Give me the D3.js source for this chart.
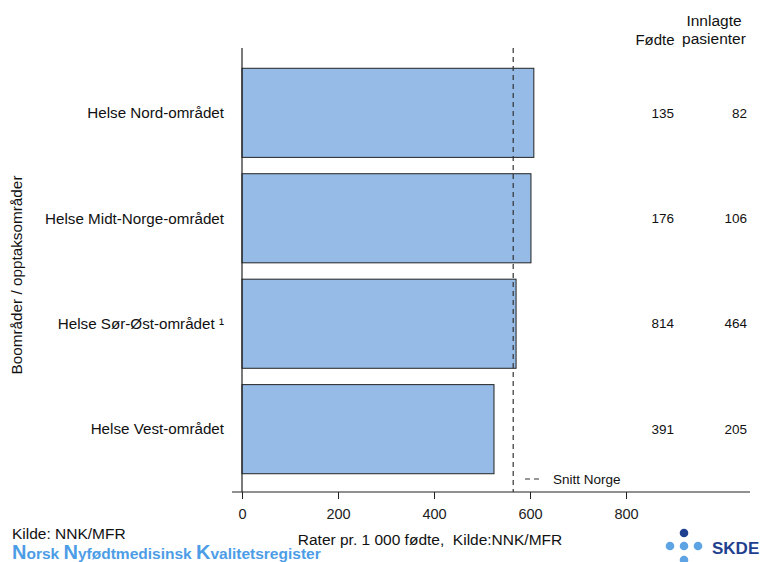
<!DOCTYPE html>
<html><head><meta charset="utf-8">
<script src="https://cdn.jsdelivr.net/npm/d3@7"></script>
<style>body{margin:0;background:#fff}svg{font-family:Arial,"Liberation Sans",sans-serif}</style>
</head><body><svg id="c" width="760" height="562"></svg>
<script>
const categories = ["Helse Nord-området","Helse Midt-Norge-området","Helse Sør-Øst-området ¹","Helse Vest-området"];
const rates = [608, 602, 571, 525];
const fodte = [135, 176, 814, 391];
const innlagte = [82, 106, 464, 205];
const snittNorge = 565;
const xTicks = [0,200,400,600,800];

const svg = d3.select("#c");
const x = d3.scaleLinear().domain([0,800]).range([242,626]);
const y = d3.scaleBand().domain(categories).range([63,479]).paddingInner(0.155).paddingOuter(0.05);

svg.append("g").selectAll("rect").data(categories).join("rect")
  .attr("x", x(0)).attr("y", d=>y(d))
  .attr("width", (d,i)=>x(rates[i])-x(0)).attr("height", y.bandwidth())
  .attr("fill","#95bbe6").attr("stroke","#222").attr("stroke-width",1);

// y axis
svg.append("line").attr("x1",242).attr("x2",242).attr("y1",48).attr("y2",492).attr("stroke","#222").attr("stroke-width",1.2);
// x axis
const xa = svg.append("g").attr("transform","translate(0,492)")
  .call(d3.axisBottom(x).tickValues(xTicks).tickSize(7).tickSizeOuter(0).tickFormat(d3.format("d")));
xa.select(".domain").remove();
xa.selectAll(".tick line").attr("stroke","#222");
xa.selectAll("text").attr("font-size",14.5).attr("fill","#222").attr("dy","1.2em");
svg.append("line").attr("x1",232).attr("x2",750).attr("y1",492).attr("y2",492).attr("stroke","#222").attr("stroke-width",1.2);

// snitt line
svg.append("line").attr("x1",x(snittNorge)).attr("x2",x(snittNorge)).attr("y1",48).attr("y2",492)
  .attr("stroke","#333").attr("stroke-width",1.2).attr("stroke-dasharray","5,4");

// category labels
svg.append("g").selectAll("text").data(categories).join("text")
  .attr("x",224).attr("y",d=>y(d)+y.bandwidth()/2).attr("dy","0.35em")
  .attr("text-anchor","end").attr("font-size",15.2).attr("fill","#111").text(d=>d);

// table columns
svg.append("g").selectAll("text").data(categories).join("text")
  .attr("x",674).attr("y",d=>y(d)+y.bandwidth()/2).attr("dy","0.35em")
  .attr("text-anchor","end").attr("font-size",13.5).attr("fill","#111").text((d,i)=>fodte[i]);
svg.append("g").selectAll("text").data(categories).join("text")
  .attr("x",747).attr("y",d=>y(d)+y.bandwidth()/2).attr("dy","0.35em")
  .attr("text-anchor","end").attr("font-size",13.5).attr("fill","#111").text((d,i)=>innlagte[i]);
svg.append("text").attr("x",655).attr("y",45).attr("text-anchor","middle").attr("font-size",15).attr("fill","#111").text("Fødte");
svg.append("text").attr("x",714).attr("y",26).attr("text-anchor","middle").attr("font-size",15.5).attr("fill","#111").text("Innlagte");
svg.append("text").attr("x",714).attr("y",44).attr("text-anchor","middle").attr("font-size",15.5).attr("fill","#111").text("pasienter");

// legend
svg.append("line").attr("x1",525).attr("x2",539).attr("y1",479).attr("y2",479).attr("stroke","#333").attr("stroke-width",1.2).attr("stroke-dasharray","5,4");
svg.append("text").attr("x",553).attr("y",484).attr("font-size",13.5).attr("fill","#111").text("Snitt Norge");

// titles
svg.append("text").attr("transform","translate(22,275) rotate(-90)").attr("text-anchor","middle").attr("font-size",15.3).attr("fill","#111").text("Boområder / opptaksområder");
svg.append("text").attr("x",430).attr("y",545).attr("text-anchor","middle").attr("font-size",15.5).attr("fill","#111").attr("xml:space","preserve").style("white-space","pre").text("Rater pr. 1 000 fødte,  Kilde:NNK/MFR");

// footer
svg.append("text").attr("x",12).attr("y",539).attr("font-size",15.5).attr("fill","#111").text("Kilde: NNK/MFR");
const t = svg.append("text").attr("x",12).attr("y",559).attr("font-size",15.5).attr("font-weight","bold").attr("fill","#4d9de6");
[["N",20],["orsk ",15.5],["N",20],["yfødtmedisinsk ",15.5],["K",20],["valitetsregister",15.5]].forEach(p=>t.append("tspan").attr("font-size",p[1]).text(p[0]));

// SKDE logo
const dots = [[684,533,"#1f3f8f",4.3],[670,546,"#5ea3e3",4.3],[684,546,"#5ea3e3",4.3],[698,546,"#5ea3e3",4.3],[684,560,"#5ea3e3",4.3]];
svg.append("g").selectAll("circle").data(dots).join("circle").attr("cx",d=>d[0]).attr("cy",d=>d[1]).attr("r",d=>d[3]).attr("fill",d=>d[2]);
svg.append("text").attr("x",712).attr("y",554).attr("font-size",17).attr("font-weight","bold").attr("fill","#1f3f8f").text("SKDE");
</script></body></html>
